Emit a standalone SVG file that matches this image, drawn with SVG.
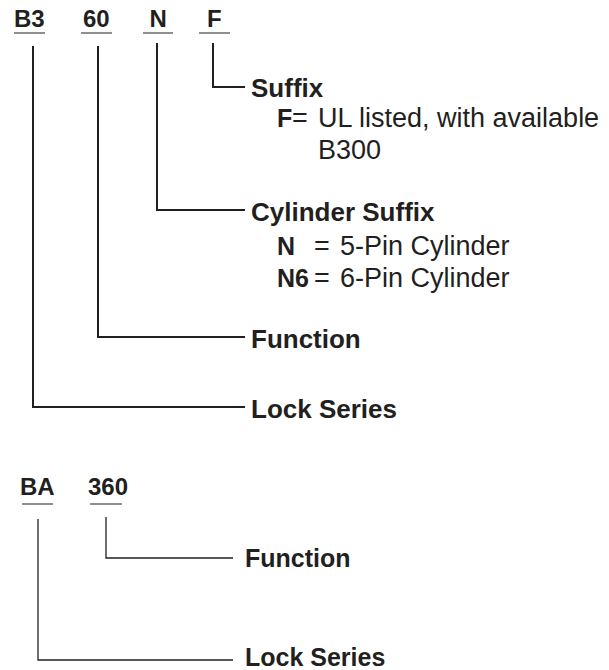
<svg xmlns="http://www.w3.org/2000/svg" width="609" height="670" viewBox="0 0 609 670">
<style>
text{font-family:"Liberation Sans",Arial,Helvetica,sans-serif;fill:#231f20}
.code{font-weight:bold;font-size:24px}
.lbl{font-weight:bold;font-size:26px}
.lbl2{font-weight:bold;font-size:25px}
.b{font-weight:bold;font-size:25px}
.desc{font-size:27px}
.ul{stroke:#231f20;stroke-width:1.2;fill:none}
.con{stroke:#231f20;stroke-width:2;fill:none}
.con2{stroke:#231f20;stroke-width:1.3;fill:none}
</style>
<rect width="609" height="670" fill="#fff"/>
<g id="codes1">
<text class="code" x="14" y="27">B3</text>
<text class="code" x="83" y="27">60</text>
<text class="code" x="149.5" y="27">N</text>
<text class="code" x="207" y="27">F</text>
<path class="ul" d="M14 33H45M81 33H112M143 33H173M199 33H230"/>
</g>
<g id="connectors">
<path class="con" d="M213 43V87H245"/>
<path class="con" d="M157 43V210H245"/>
<path class="con" d="M98 46V337H245"/>
<path class="con" d="M33 46V407H245"/>
<path class="con2" d="M106 517V558H233"/>
<path class="con2" d="M38 519V660H233"/>
</g>
<g id="suffix">
<text class="lbl" x="251" y="97">Suffix</text>
<text class="b" x="277" y="127">F</text>
<text class="desc" x="292" y="127">=</text>
<text class="desc" x="318" y="127">UL listed, with available</text>
<text class="desc" x="318" y="159">B300</text>
</g>
<g id="cylinder-suffix">
<text class="lbl" x="251" y="221">Cylinder Suffix</text>
<text class="b" x="277" y="255">N</text>
<text class="desc" x="314" y="255">=</text>
<text class="desc" x="340" y="255">5-Pin Cylinder</text>
<text class="b" x="277" y="287">N6</text>
<text class="desc" x="314" y="287">=</text>
<text class="desc" x="340" y="287">6-Pin Cylinder</text>
</g>
<g id="function">
<text class="lbl" x="251" y="348">Function</text>
</g>
<g id="lock-series">
<text class="lbl" x="251" y="418">Lock Series</text>
</g>
<g id="codes2">
<text class="code" x="20" y="495">BA</text>
<text class="code" x="88" y="495">360</text>
<path class="ul" d="M22 504H53M90 504H122"/>
</g>
<g id="function2">
<text class="lbl2" x="245" y="567">Function</text>
</g>
<g id="lock-series2">
<text class="lbl2" x="245" y="666">Lock Series</text>
</g>
</svg>
